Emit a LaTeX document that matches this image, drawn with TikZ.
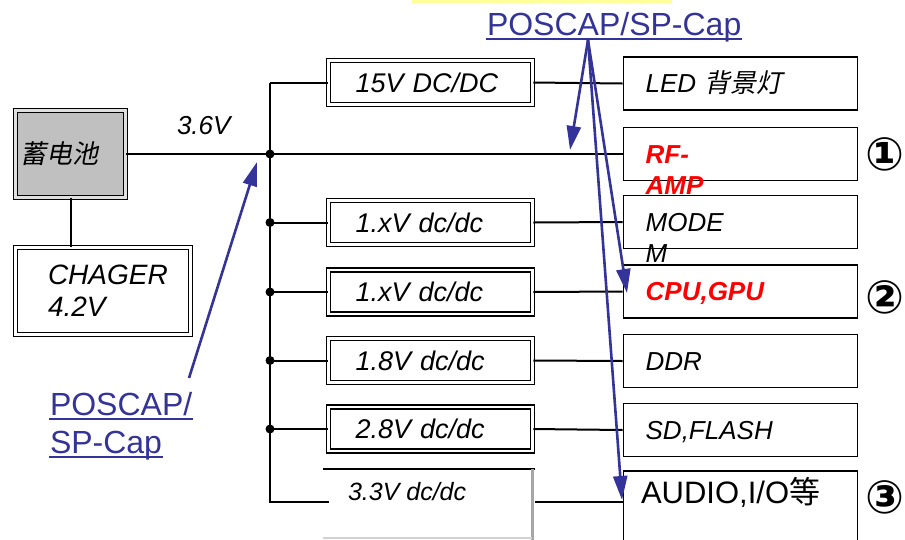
\documentclass[tikz,border=0pt]{standalone}
\usepackage{fontspec}
\setmainfont{Liberation Sans}
\newfontfamily\cjkfont{Noto Sans CJK SC}
\newfontfamily\cjkslant{Noto Sans CJK SC}[FakeSlant=0.2]
\newfontfamily\symfont{DejaVu Sans}
\usepackage{tikz}
\usetikzlibrary{arrows.meta}
\definecolor{capblue}{RGB}{51,51,153}
\definecolor{batgray}{RGB}{192,192,192}
\definecolor{noteyellow}{RGB}{255,255,153}

\begin{document}
\begin{tikzpicture}[x=1pt,y=-1pt,line width=2pt]
  \tikzstyle{conv}=[draw, double=white, double distance=2.6pt, line width=1.6pt, minimum width=204pt, minimum height=44pt, inner sep=0pt, text width=150pt, align=left, font=\itshape\fontsize{27}{30}\selectfont]
  \tikzstyle{dev}=[draw, line width=1.7pt, minimum width=234pt, minimum height=53pt]
  \tikzstyle{devtext}=[anchor=base west, inner sep=0pt, text width=200pt, align=left, font=\itshape\fontsize{26}{31}\selectfont]
  \tikzstyle{hot}=[devtext, red, font=\bfseries\itshape\fontsize{26}{31}\selectfont]
  \tikzstyle{capnote}=[anchor=base west, inner sep=0pt, capblue, font=\fontsize{32}{36}\selectfont]
  \tikzstyle{num}=[inner sep=0pt, font=\symfont\bfseries\fontsize{46}{46}\selectfont]
  \tikzstyle{note}=[capblue, line width=2.6pt, -{Triangle[length=24pt,width=14pt]}]
  \useasboundingbox (0,0) rectangle (905,539);
  \fill[noteyellow] (412,0) rectangle (672,3);

  \node[conv, fill=batgray, double=gray!25, minimum width=110pt, minimum height=87pt, text width=100pt, font=\cjkslant\fontsize{26}{30}\selectfont] (B_bat) at (70.5,154) {蓄电池};
  \node[conv, minimum width=175pt, minimum height=87pt, text width=110pt, font=\itshape\fontsize{28}{32}\selectfont] (B_chg) at (103,291) {CHAGER\\4.2V};
  \node[anchor=base west, inner sep=0pt, font=\itshape\fontsize{26}{30}\selectfont] (V_bat) at (176,134) {3.6V};

  \node[conv] (C_15) at (430.5,82.5) {15V DC/DC};
  \node[conv] (C_1a) at (430.5,222.5) {1.xV dc/dc};
  \node[conv] (C_1b) at (430.5,292) {1.xV dc/dc};
  \node[conv] (C_18) at (430.5,360.5) {1.8V dc/dc};
  \node[conv] (C_28) at (430.5,429) {2.8V dc/dc};
  \node[anchor=base west, inner sep=0pt, font=\itshape\fontsize{25}{30}\selectfont] (C_33) at (347,500) {3.3V dc/dc};
  \draw[line width=1.5pt] (323,469) -- (535,469);
  \draw[gray!70, line width=3pt] (532,469) -- (532,540);
  \draw[gray!35, line width=1.5pt] (323,538) -- (532,538);

  \node[dev] (D_led) at (740.5,83.5) {};
  \node[dev] (D_rf) at (740.5,154) {};
  \node[dev] (D_mod) at (740.5,222) {};
  \node[dev] (D_cpu) at (740.5,291.5) {};
  \node[dev] (D_ddr) at (740.5,361) {};
  \node[dev] (D_sd) at (740.5,430) {};
  \node[dev, minimum height=120pt, anchor=north] (D_aud) at (740.5,470) {};

  \node[devtext] (T_led) at ([xshift=22pt,yshift=-9pt]D_led.west) {LED {\cjkslant 背景灯}};
  \node[hot] (T_rf) at ([xshift=22pt,yshift=-9pt]D_rf.west) {RF-\\AMP};
  \node[devtext] (T_mod) at ([xshift=22pt,yshift=-9pt]D_mod.west) {MODE\\M};
  \node[hot] (T_cpu) at ([xshift=22pt,yshift=-9pt]D_cpu.west) {CPU,GPU};
  \node[devtext] (T_ddr) at ([xshift=22pt,yshift=-9pt]D_ddr.west) {DDR};
  \node[devtext] (T_sd) at ([xshift=22pt,yshift=-9pt]D_sd.west) {SD,FLASH};
  \node[anchor=base west, inner sep=0pt, font=\fontsize{31}{34}\selectfont] (T_aud) at (640,503) {AUDIO,I/O{\cjkfont 等}};

  \node[num] (N_1) at (885,154) {①};
  \node[num] (N_2) at (885,297) {②};
  \node[num] (N_3) at (885,497) {③};

  \coordinate (J_0) at (270,82.5);
  \coordinate (J_1) at (270,154);
  \coordinate (J_2) at (270,222.5);
  \coordinate (J_3) at (270,292);
  \coordinate (J_4) at (270,360.5);
  \coordinate (J_5) at (270,429);
  \coordinate (J_6) at (270,502);
  \coordinate (E_33l) at (329,502);
  \coordinate (E_33r) at (535,502);

  \draw (B_bat.east) -- (D_rf.west);
  \draw (B_bat.south) -- (B_bat.south |- B_chg.north);
  \draw (J_0) -- (J_6) -- (E_33l);
  \draw (J_0) -- (C_15.west);
  \draw (J_2) -- (C_1a.west);
  \draw (J_3) -- (C_1b.west);
  \draw (J_4) -- (C_18.west);
  \draw (J_5) -- (C_28.west);
  \draw (C_15.east) -- (D_led.west);
  \draw (C_1a.east) -- (D_mod.west);
  \draw (C_1b.east) -- (D_cpu.west);
  \draw (C_18.east) -- (D_ddr.west);
  \draw (C_28.east) -- (D_sd.west);
  \draw (E_33r) -- (E_33r -| D_aud.west);
  \foreach \j in {1,...,5}
    \fill (J_\j) circle (4.5pt);

  \node[capnote] (L_top) at (486,35) {POSCAP/SP-Cap};
  \node[capnote] (L_low1) at (49,415) {POSCAP/};
  \node[capnote] (L_low2) at (49,453) {SP-Cap};
  \draw[capblue, line width=2.5pt] ([yshift=-4pt]L_top.base west) -- ([yshift=-4pt]L_top.base east);
  \draw[capblue, line width=2.5pt] ([yshift=-4pt]L_low1.base west) -- ([yshift=-4pt]L_low1.base east);
  \draw[capblue, line width=2.5pt] ([yshift=-4pt]L_low2.base west) -- ([yshift=-4pt]L_low2.base east);

  \coordinate (K_top) at (588,40);
  \coordinate (K_low) at (189,378);
  \coordinate (P_rf) at (570,150);
  \coordinate (P_cpu) at (627,293);
  \coordinate (P_aud) at (622,500);
  \coordinate (P_bus) at (257,162);
  \draw[note] (K_top) -- (P_rf);
  \draw[note] (K_top) -- (P_cpu);
  \draw[note] (K_top) -- (P_aud);
  \draw[note] (K_low) -- (P_bus);
\end{tikzpicture}
\end{document}
